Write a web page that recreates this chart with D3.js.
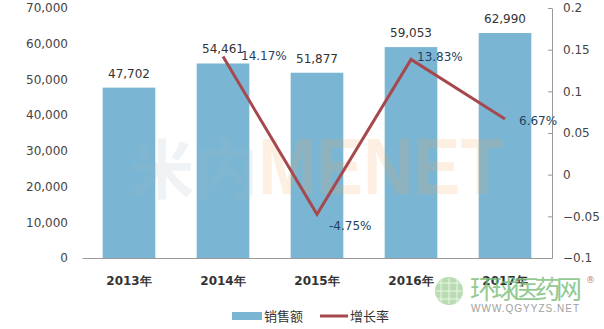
<!DOCTYPE html>
<html>
<head>
<meta charset="utf-8">
<script src="https://cdn.jsdelivr.net/npm/d3@7.9.0/dist/d3.min.js"></script>
<style>
  body { margin: 0; background: #fff; }
  svg { font-family: "DejaVu Sans", Verdana, sans-serif; }
</style>
</head>
<body>
<svg width="604" height="329"></svg>
<script>
// Data
const years = ['2013年', '2014年', '2015年', '2016年', '2017年'];
const sales = [47702, 54461, 51877, 59053, 62990];
const growthYears = ['2014年', '2015年', '2016年', '2017年'];
const growth = [0.1417, -0.0475, 0.1383, 0.0667];
const leftTicks = [0, 10000, 20000, 30000, 40000, 50000, 60000, 70000];
const rightTicks = [-0.1, -0.05, 0, 0.05, 0.1, 0.15, 0.2];

const svg = d3.select('svg');
const plotLeft = 82, plotRight = 552, plotTop = 8, plotBottom = 258;

const x = d3.scaleBand().domain(years).range([plotLeft, plotRight]).paddingInner(0.44).paddingOuter(0.22);
const y = d3.scaleLinear().domain([0, 70000]).range([plotBottom, plotTop]);
const y2 = d3.scaleLinear().domain([-0.1, 0.2]).range([plotBottom, plotTop]);

// Bars
svg.append('g').selectAll('rect').data(sales).join('rect')
  .attr('x', (d, i) => x(years[i]))
  .attr('width', x.bandwidth())
  .attr('y', d => y(d))
  .attr('height', d => y(0) - y(d))
  .attr('fill', '#7ab6d4');

// Watermark in the middle, faint, over the bars
const wm = svg.append('g').attr('opacity', 0.16);
wm.append('text').attr('x', 130).attr('y', 193)
  .attr('font-size', 64).attr('font-weight', 'bold').attr('fill', '#a8b8c4')
  .attr('font-family', 'Noto Sans CJK SC').text('米内');
wm.append('text').attr('x', 258).attr('y', 194)
  .attr('font-size', 80).attr('font-weight', 'bold').attr('fill', '#f5a855')
  .attr('textLength', 245).attr('lengthAdjust', 'spacingAndGlyphs')
  .attr('font-family', 'Liberation Sans').text('MENET');

// Bar labels
svg.append('g').selectAll('text').data(sales).join('text')
  .attr('x', (d, i) => x(years[i]) + x.bandwidth() / 2)
  .attr('y', d => y(d) - 10)
  .attr('text-anchor', 'middle')
  .attr('font-size', 12).attr('fill', '#333')
  .text(d => d3.format(',')(d));

// Left axis (labels only)
const ya = svg.append('g').attr('transform', `translate(${plotLeft - 14},0)`)
  .call(d3.axisLeft(y).tickValues(leftTicks).tickSize(0).tickPadding(0).tickFormat(d3.format(',')));
ya.select('.domain').remove();
ya.selectAll('text').attr('font-size', 12).attr('fill', '#444').attr('font-family', 'DejaVu Sans');

// Right axis
const ra = svg.append('g').attr('transform', `translate(${plotRight},0)`)
  .call(d3.axisRight(y2).tickValues(rightTicks).tickSizeInner(-4).tickSizeOuter(0).tickPadding(11)
    .tickFormat(d => d3.format('')(+d.toFixed(2))));
ra.select('.domain').attr('stroke', '#999');
ra.selectAll('line').attr('stroke', '#999');
ra.selectAll('text').attr('font-size', 12).attr('fill', '#444').attr('font-family', 'DejaVu Sans');

// Bottom axis
const xa = svg.append('g').attr('transform', `translate(0,${plotBottom})`)
  .call(d3.axisBottom(x).tickSize(0).tickPadding(18));
xa.select('.domain').attr('stroke', '#999');
xa.selectAll('text').attr('font-size', 12).attr('font-weight', 'bold').attr('fill', '#333')
  .attr('font-family', 'DejaVu Sans');

// Growth line
const line = d3.line()
  .x((d, i) => x(growthYears[i]) + x.bandwidth() / 2)
  .y(d => y2(d));
svg.append('path').datum(growth)
  .attr('d', line)
  .attr('fill', 'none').attr('stroke', '#a6494e').attr('stroke-width', 3);

// Growth labels
const offsets = [[18, 3], [12, 16], [6, 2], [14, 6]];
svg.append('g').selectAll('text').data(growth).join('text')
  .attr('x', (d, i) => x(growthYears[i]) + x.bandwidth() / 2 + offsets[i][0])
  .attr('y', (d, i) => y2(d) + offsets[i][1])
  .attr('font-size', 12).attr('fill', '#23405e')
  .text(d => (d * 100).toFixed(2) + '%');

// Legend
const lg = svg.append('g').attr('transform', 'translate(0,316)');
lg.append('rect').attr('x', 232).attr('y', -4).attr('width', 30).attr('height', 8).attr('fill', '#7ab6d4');
lg.append('text').attr('x', 264).attr('y', 5).attr('font-size', 13).attr('fill', '#333')
  .attr('font-family', 'Noto Sans CJK SC').text('销售额');
lg.append('line').attr('x1', 320).attr('x2', 348).attr('y1', 0).attr('y2', 0)
  .attr('stroke', '#a6494e').attr('stroke-width', 3);
lg.append('text').attr('x', 350).attr('y', 5).attr('font-size', 13).attr('fill', '#333')
  .attr('font-family', 'Noto Sans CJK SC').text('增长率');

// Corner watermark
const cw = svg.append('g').attr('opacity', 0.8);
cw.append('circle').attr('cx', 449).attr('cy', 291).attr('r', 14).attr('fill', '#a8d4a0');
[-8, 0, 8].forEach(d => {
  cw.append('line').attr('x1', 436).attr('x2', 462).attr('y1', 291 + d).attr('y2', 291 + d)
    .attr('stroke', '#e8f4e4').attr('stroke-width', 1);
  cw.append('line').attr('y1', 278).attr('y2', 304).attr('x1', 449 + d).attr('x2', 449 + d)
    .attr('stroke', '#e8f4e4').attr('stroke-width', 1);
});
cw.append('text').attr('x', 470).attr('y', 299).attr('font-size', 26).attr('fill', '#78bd78')
  .attr('font-family', 'Noto Sans CJK SC').attr('textLength', 112).text('环球医药网');
cw.append('text').attr('x', 471).attr('y', 312).attr('font-size', 10).attr('fill', '#888')
  .attr('font-family', 'Liberation Sans').attr('textLength', 108).text('WWW.QGYYZS.NET');
cw.append('text').attr('x', 586).attr('y', 283).attr('font-size', 9).attr('fill', '#c55')
  .text('®');
</script>
</body>
</html>
